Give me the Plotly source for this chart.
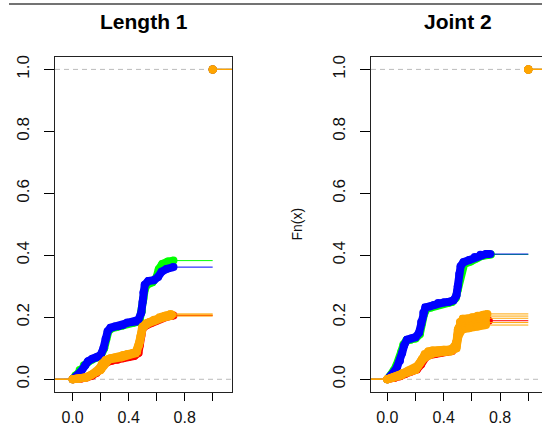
import plotly.graph_objects as go

# ---------------- data ----------------
TITLES = ["Length 1", "Joint 2"]
Y_LABEL = "Fn(x)"
TICK_VALUES = [0.0, 0.2, 0.4, 0.6, 0.8, 1.0]
X_TICK_TEXT = ["0.0", "", "0.4", "", "0.8", ""]
Y_TICK_TEXT = ["0.0", "0.2", "0.4", "0.6", "0.8", "1.0"]

# every ECDF ends with a jump to 1 at x = 1
JUMP_X = 1.0
JUMP_Y = 1.0

# ---- Left panel: "Length 1" ----
L_GREEN_X = [0.0, 0.02, 0.05, 0.08, 0.11, 0.14, 0.17, 0.20, 0.225, 0.24, 0.255, 0.28, 0.31, 0.35, 0.39,
             0.43, 0.46, 0.48, 0.495, 0.505, 0.515, 0.53, 0.57, 0.60, 0.615, 0.64, 0.68, 0.72]
L_GREEN_Y = [0.0, 0.012, 0.03, 0.045, 0.056, 0.064, 0.07, 0.076, 0.10, 0.13, 0.155, 0.165, 0.168, 0.172, 0.18,
             0.182, 0.185, 0.195, 0.22, 0.26, 0.29, 0.305, 0.313, 0.33, 0.355, 0.372, 0.38, 0.383]
L_BLUE_X = [0.0, 0.03, 0.06, 0.09, 0.11, 0.14, 0.17, 0.20, 0.22, 0.235, 0.25, 0.27, 0.30, 0.33, 0.36, 0.39,
            0.42, 0.45, 0.47, 0.49, 0.50, 0.505, 0.515, 0.54, 0.58, 0.61, 0.635, 0.67, 0.72]
L_BLUE_Y = [0.0, 0.01, 0.025, 0.045, 0.058, 0.066, 0.07, 0.078, 0.10, 0.13, 0.155, 0.166, 0.17, 0.171, 0.175, 0.183,
            0.184, 0.186, 0.192, 0.215, 0.25, 0.28, 0.305, 0.317, 0.32, 0.33, 0.347, 0.356, 0.362]
L_RED_X = [0.0, 0.06, 0.10, 0.14, 0.17, 0.20, 0.22, 0.245, 0.28, 0.32, 0.36, 0.40, 0.44, 0.47, 0.48, 0.49,
           0.50, 0.53, 0.56, 0.60, 0.64, 0.68, 0.72]
L_RED_Y = [0.0, 0.002, 0.006, 0.012, 0.02, 0.032, 0.045, 0.055, 0.06, 0.063, 0.068, 0.072, 0.075, 0.085, 0.11, 0.14,
           0.165, 0.175, 0.182, 0.19, 0.198, 0.203, 0.206]
L_ORANGE_X = [0.0, 0.05, 0.09, 0.13, 0.16, 0.19, 0.21, 0.235, 0.27, 0.30, 0.33, 0.36, 0.39, 0.43, 0.46, 0.475,
              0.485, 0.495, 0.52, 0.55, 0.58, 0.62, 0.66, 0.71]
L_ORANGE_Y = [0.0, 0.002, 0.006, 0.013, 0.022, 0.035, 0.05, 0.062, 0.068, 0.07, 0.072, 0.078, 0.082, 0.085, 0.09, 0.11,
              0.14, 0.165, 0.178, 0.185, 0.19, 0.2, 0.205, 0.208]
L_ORANGE2_X = [0.0, 0.10, 0.20, 0.26, 0.35, 0.45, 0.48, 0.50, 0.53, 0.58, 0.64, 0.70]
L_ORANGE2_Y = [0.0, 0.006, 0.03, 0.064, 0.071, 0.084, 0.12, 0.165, 0.178, 0.188, 0.198, 0.204]
L_ORANGE3_X = [0.0, 0.10, 0.20, 0.26, 0.35, 0.45, 0.48, 0.50, 0.53, 0.58, 0.64, 0.70]
L_ORANGE3_Y = [0.0, 0.007, 0.032, 0.066, 0.073, 0.086, 0.125, 0.17, 0.182, 0.192, 0.203, 0.211]

# ---- Right panel: "Joint 2" ----
R_GREEN_X = [0.0, 0.025, 0.045, 0.065, 0.085, 0.10, 0.115, 0.135, 0.165, 0.20, 0.23, 0.245, 0.26, 0.28, 0.31,
             0.35, 0.39, 0.43, 0.46, 0.485, 0.50, 0.51, 0.525, 0.545, 0.59, 0.63, 0.67, 0.71, 0.735]
R_GREEN_Y = [0.0, 0.012, 0.028, 0.045, 0.065, 0.09, 0.112, 0.125, 0.128, 0.132, 0.145, 0.18, 0.21, 0.228, 0.232,
             0.238, 0.243, 0.246, 0.25, 0.262, 0.29, 0.33, 0.36, 0.372, 0.38, 0.39, 0.398, 0.401, 0.403]
R_BLUE_X = [0.0, 0.03, 0.05, 0.07, 0.09, 0.105, 0.12, 0.14, 0.17, 0.20, 0.225, 0.24, 0.255, 0.27, 0.30, 0.33,
            0.36, 0.40, 0.44, 0.47, 0.49, 0.50, 0.51, 0.52, 0.54, 0.58, 0.62, 0.66, 0.70, 0.73]
R_BLUE_Y = [0.0, 0.012, 0.025, 0.04, 0.06, 0.085, 0.11, 0.128, 0.132, 0.136, 0.15, 0.185, 0.215, 0.232, 0.235, 0.24,
            0.246, 0.248, 0.25, 0.255, 0.27, 0.30, 0.34, 0.365, 0.378, 0.385, 0.395, 0.402, 0.404, 0.404]
R_RED_X = [0.0, 0.05, 0.09, 0.13, 0.17, 0.21, 0.24, 0.27, 0.30, 0.34, 0.38, 0.42, 0.46, 0.485, 0.50, 0.515,
           0.54, 0.58, 0.62, 0.66, 0.70, 0.72]
R_RED_Y = [0.0, 0.004, 0.01, 0.018, 0.025, 0.032, 0.048, 0.07, 0.078, 0.082, 0.085, 0.088, 0.092, 0.11, 0.145, 0.165,
           0.172, 0.175, 0.18, 0.185, 0.188, 0.189]
R_ORANGE_X = [0.0, 0.04, 0.08, 0.11, 0.15, 0.19, 0.22, 0.245, 0.265, 0.29, 0.32, 0.36, 0.40, 0.44, 0.47, 0.49,
              0.50, 0.515, 0.535, 0.57, 0.60, 0.64, 0.68, 0.71]
R_ORANGE_Y = [0.0, 0.004, 0.01, 0.02, 0.028, 0.035, 0.045, 0.065, 0.082, 0.09, 0.093, 0.093, 0.095, 0.096, 0.1, 0.12,
              0.16, 0.185, 0.195, 0.196, 0.2, 0.205, 0.208, 0.211]
R_ORANGE2_X = [0.0, 0.10, 0.20, 0.26, 0.33, 0.45, 0.49, 0.505, 0.53, 0.58, 0.64, 0.70]
R_ORANGE2_Y = [0.0, 0.015, 0.035, 0.075, 0.09, 0.095, 0.115, 0.165, 0.188, 0.192, 0.2, 0.204]
R_ORANGE3_X = [0.0, 0.10, 0.20, 0.26, 0.33, 0.45, 0.49, 0.505, 0.53, 0.58, 0.64, 0.70]
R_ORANGE3_Y = [0.0, 0.014, 0.033, 0.072, 0.088, 0.093, 0.11, 0.16, 0.182, 0.187, 0.193, 0.197]
R_ORANGE4_X = [0.0, 0.10, 0.20, 0.26, 0.33, 0.45, 0.49, 0.505, 0.53, 0.58, 0.64, 0.70]
R_ORANGE4_Y = [0.0, 0.013, 0.031, 0.07, 0.086, 0.091, 0.105, 0.15, 0.17, 0.174, 0.18, 0.183]
R_ORANGE5_X = [0.0, 0.10, 0.20, 0.26, 0.33, 0.45, 0.49, 0.505, 0.53, 0.58, 0.64, 0.70]
R_ORANGE5_Y = [0.0, 0.012, 0.03, 0.068, 0.084, 0.09, 0.1, 0.14, 0.16, 0.165, 0.17, 0.175]

GREEN, BLUE, RED, ORANGE = "#00FF00", "#0000FF", "#FF0000", "#FFA500"

LEFT_SERIES = [(L_GREEN_X, L_GREEN_Y, GREEN), (L_BLUE_X, L_BLUE_Y, BLUE), (L_RED_X, L_RED_Y, RED),
               (L_ORANGE2_X, L_ORANGE2_Y, ORANGE), (L_ORANGE3_X, L_ORANGE3_Y, ORANGE),
               (L_ORANGE_X, L_ORANGE_Y, ORANGE)]
RIGHT_SERIES = [(R_GREEN_X, R_GREEN_Y, GREEN), (R_BLUE_X, R_BLUE_Y, BLUE), (R_RED_X, R_RED_Y, RED),
                (R_ORANGE2_X, R_ORANGE2_Y, ORANGE), (R_ORANGE3_X, R_ORANGE3_Y, ORANGE),
                (R_ORANGE4_X, R_ORANGE4_Y, ORANGE), (R_ORANGE5_X, R_ORANGE5_Y, ORANGE),
                (R_ORANGE_X, R_ORANGE_Y, ORANGE)]

# ---------------- layout geometry ----------------
W, H = 542, 427
LEFT_XRANGE = [-0.126, 1.138]
RIGHT_XRANGE = [-0.1156, 1.097]
YRANGE = [-0.041, 1.04]
YDOM = [1 - 392 / H, 1 - 57 / H]
FONT = "Liberation Sans, Arial, sans-serif"

fig = go.Figure()


def add_ecdf(xs, ys, color, xa, ya, xrange):
    common = dict(xaxis=xa, yaxis=ya, hoverinfo="skip", showlegend=False)
    # lead-in at 0 from left edge
    fig.add_trace(go.Scatter(x=[xrange[0], xs[0]], y=[0, 0], mode="lines",
                             line=dict(color=color, width=1), **common))
    # dense run of ECDF points
    fig.add_trace(go.Scatter(x=xs, y=ys, mode="lines+markers",
                             line=dict(color=color, width=8),
                             marker=dict(color=color, size=8), **common))
    # flat step up to the final jump
    fig.add_trace(go.Scatter(x=[xs[-1], JUMP_X], y=[ys[-1], ys[-1]], mode="lines",
                             line=dict(color=color, width=1), **common))
    # final step to the right edge
    fig.add_trace(go.Scatter(x=[JUMP_X, xrange[1]], y=[JUMP_Y, JUMP_Y], mode="lines",
                             line=dict(color=color, width=1), **common))
    fig.add_trace(go.Scatter(x=[JUMP_X], y=[JUMP_Y], mode="markers",
                             marker=dict(color=color, size=8), **common))


for xs, ys, c in LEFT_SERIES:
    add_ecdf(xs, ys, c, "x", "y", LEFT_XRANGE)
for xs, ys, c in RIGHT_SERIES:
    add_ecdf(xs, ys, c, "x2", "y2", RIGHT_XRANGE)

axis_common = dict(showgrid=False, zeroline=False, ticks="outside", tickcolor="black",
                   tickwidth=1, linecolor="#222222", linewidth=1.3, automargin=False,
                   tickfont=dict(family=FONT, size=17, color="#111111"))

xcommon = dict(axis_common, tickvals=TICK_VALUES, ticktext=X_TICK_TEXT, ticklen=8,
               ticklabelstandoff=2, tickfont=dict(family=FONT, size=16, color="#111111"))
ycommon = dict(axis_common, tickvals=TICK_VALUES, ticktext=Y_TICK_TEXT, ticklen=10,
               tickangle=-90, range=YRANGE, domain=YDOM, ticklabelstandoff=8)

fig.update_layout(
    width=W, height=H,
    margin=dict(l=0, r=0, t=0, b=0),
    paper_bgcolor="white", plot_bgcolor="white",
    xaxis=dict(xcommon, domain=[55 / W, 232 / W], range=LEFT_XRANGE, anchor="y",
               showline=True, mirror=True),
    yaxis=dict(ycommon, anchor="x", showline=True, mirror=True),
    xaxis2=dict(xcommon, domain=[371 / W, 1.0], range=RIGHT_XRANGE, anchor="y2",
                showline=True, mirror=True),
    yaxis2=dict(ycommon, anchor="x2", showline=True, mirror=False),
)

# dashed reference lines at 0 and 1
shapes = []
for xa, ya in (("x", "y"), ("x2", "y2")):
    for level in (0, 1):
        shapes.append(dict(type="line", xref=f"{xa} domain", x0=0, x1=1, yref=ya, y0=level, y1=level,
                           line=dict(color="#BBBBBB", width=1, dash="5px,4px"), layer="below"))
# top rule
shapes.append(dict(type="line", xref="paper", yref="paper", x0=9 / W, x1=1, y0=1 - 4 / H, y1=1 - 4 / H,
                   line=dict(color="#444444", width=1.5)))
fig.update_layout(shapes=shapes)

annotations = [
    dict(text=f"<b>{TITLES[0]}</b>", x=143.5 / W, y=1 - 21.7 / H, xref="paper", yref="paper",
         showarrow=False, xanchor="center", yanchor="middle",
         font=dict(family=FONT, size=21, color="black")),
    dict(text=f"<b>{TITLES[1]}</b>", x=458 / W, y=1 - 21.7 / H, xref="paper", yref="paper",
         showarrow=False, xanchor="center", yanchor="middle",
         font=dict(family=FONT, size=21, color="black")),
    dict(text=Y_LABEL, x=296 / W, y=1 - 224.5 / H, xref="paper", yref="paper", textangle=-90,
         showarrow=False, xanchor="center", yanchor="middle",
         font=dict(family=FONT, size=14, color="#111111")),
]
fig.update_layout(annotations=annotations)

fig.write_html("out.html", config={"displayModeBar": False, "staticPlot": True},
               post_script="document.body.style.margin='0';document.body.style.overflow='hidden';")
